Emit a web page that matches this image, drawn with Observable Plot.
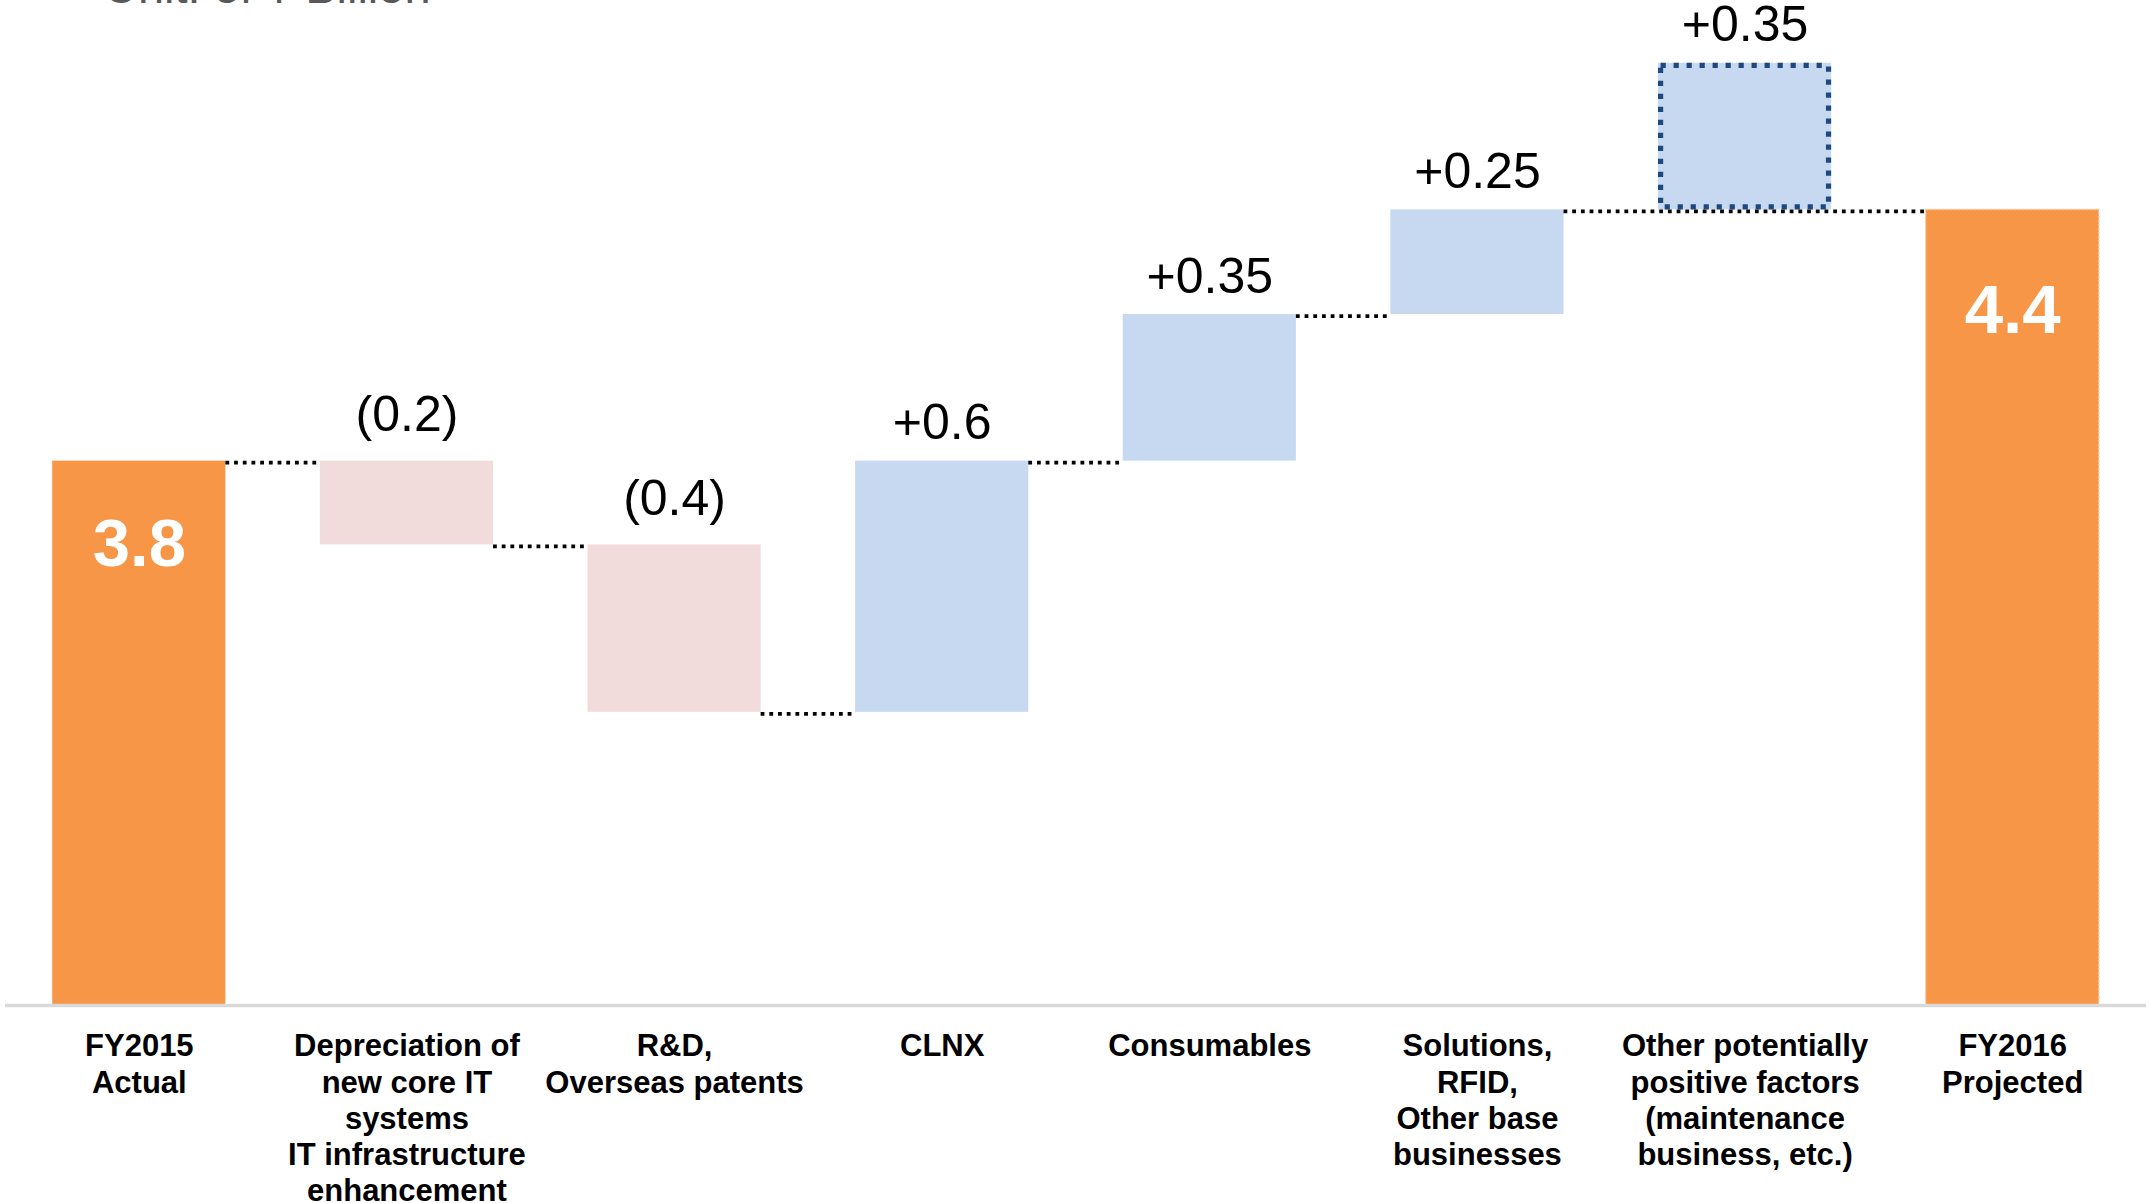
<!DOCTYPE html>
<html>
<head>
<meta charset="utf-8">
<script src="https://cdn.jsdelivr.net/npm/d3@7"></script>
<script src="https://cdn.jsdelivr.net/npm/@observablehq/plot@0.6"></script>
<style>
  html, body { margin: 0; padding: 0; background: #fff; overflow: hidden; }
  #wrap { position: relative; width: 2152px; height: 1203px; }
  #unit { position: absolute; left: 104px; top: -37px; font-family: "Liberation Sans", Arial, sans-serif;
          font-size: 47px; line-height: 47px; color: #595959; white-space: nowrap; }
  svg { display: block; }
</style>
</head>
<body>
<div id="wrap">
  <div id="chart"></div>
  <div id="unit">Unit: of ¥ Billion</div>
</div>
<script>
// ---- data ----
const categories = [
  "FY2015\nActual",
  "Depreciation of\nnew core IT\nsystems\nIT infrastructure\nenhancement",
  "R&D,\nOverseas patents",
  "CLNX",
  "Consumables",
  "Solutions,\nRFID,\nOther base\nbusinesses",
  "Other potentially\npositive factors\n(maintenance\nbusiness, etc.)",
  "FY2016\nProjected"
];
const values = [3.8, -0.2, -0.4, 0.6, 0.35, 0.25, 0.35, 4.4];
const kinds = ["total", "decrease", "decrease", "increase", "increase", "increase", "potential", "total"];
const valueLabels = ["3.8", "(0.2)", "(0.4)", "+0.6", "+0.35", "+0.25", "+0.35", "4.4"];
const axisBase = 2.5;   // value at the baseline of the chart
const axisTop = 4.9;    // value at the top edge

// ---- build waterfall rows ----
const rows = [];
let level = 0;
values.forEach((v, i) => {
  const k = kinds[i];
  let lo, hi;
  if (k === "total") { lo = axisBase; hi = v; level = v; }
  else { lo = level; hi = level + v; if (k !== "potential") level = hi; }
  rows.push({i, kind: k, lo, hi, top: Math.max(lo, hi), level, label: valueLabels[i]});
});

const hw = 0.3235; // half bar width in category units
const connectors = [];
rows.forEach((r, i) => {
  if (r.kind === "potential") return;
  let j = i + 1;
  while (j < rows.length && rows[j].kind === "potential") j++;
  if (j < rows.length) connectors.push({x1: i + hw, x2: j - hw, y: r.level});
});

const fills = {total: "#F79646", decrease: "#F2DCDB", increase: "#C6D9F1", potential: "#C6D9F1"};

const chart = Plot.plot({
  width: 2152,
  height: 1203,
  marginTop: 0,
  marginBottom: 198,
  marginLeft: 5,
  marginRight: 6,
  style: {fontFamily: "'Liberation Sans', Arial, sans-serif", fontSize: "31px", color: "#000", background: "#fff"},
  x: {type: "linear", domain: [-0.5, 7.5]},
  y: {domain: [axisBase, axisTop], axis: null},
  marks: [
    Plot.rect(rows.filter(d => d.kind !== "potential"), {
      x1: d => d.i - hw, x2: d => d.i + hw, y1: "lo", y2: "hi",
      fill: d => fills[d.kind]
    }),
    Plot.rect(rows.filter(d => d.kind === "total" && d.i > 0), {
      x1: d => d.i - hw, x2: d => d.i + hw, y1: "lo", y2: "hi",
      fill: "none", stroke: "#FAC8A0", strokeWidth: 1.5, strokeDasharray: "2 2"
    }),
    Plot.rect(rows.filter(d => d.kind === "potential"), {
      x1: d => d.i - hw, x2: d => d.i + hw, y1: "lo", y2: "hi",
      fill: fills.potential
    }),
    Plot.ruleY(connectors, {
      x1: "x1", x2: "x2", y: "y", dy: 1.5,
      stroke: "#000", strokeWidth: 3.8, strokeDasharray: "3.8 4.9"
    }),
    Plot.rect(rows.filter(d => d.kind === "potential"), {
      x1: d => d.i - hw, x2: d => d.i + hw, y1: "lo", y2: "hi",
      fill: "none", stroke: "#1F497D", strokeWidth: 5.2, strokeDasharray: "5.2 7.8",
      inset: 2.6
    }),
    Plot.ruleY([axisBase], {stroke: "#D9D9D9", strokeWidth: 3.5}),
    Plot.text(rows.filter(d => d.kind === "increase" || d.kind === "potential"), {
      x: "i", y: "top", text: "label", dy: -22, lineAnchor: "bottom",
      fontSize: 50, fill: "#000"
    }),
    Plot.text(rows.filter(d => d.kind === "decrease"), {
      x: "i", y: "top", text: "label", dy: -30, lineAnchor: "bottom",
      fontSize: 50, fill: "#000"
    }),
    Plot.text(rows.filter(d => d.kind === "total" && d.i === 0), {
      x: "i", y: "hi", text: "label", dy: 105, lineAnchor: "bottom",
      fontSize: 67, fontWeight: "bold", fill: "#fff"
    }),
    Plot.text(rows.filter(d => d.kind === "total" && d.i > 0), {
      x: "i", y: "hi", text: "label", dy: 123, lineAnchor: "bottom",
      fontSize: 69, fontWeight: "bold", fill: "#fff"
    }),
    Plot.axisX({
      ticks: d3.range(categories.length),
      tickFormat: i => categories[i],
      tickSize: 0,
      tickPadding: 25,
      fontSize: 31,
      fontWeight: "bold",
      lineHeight: 1.17,
      fill: "#000",
      label: null
    })
  ]
});
document.getElementById("chart").appendChild(chart);
</script>
</body>
</html>
